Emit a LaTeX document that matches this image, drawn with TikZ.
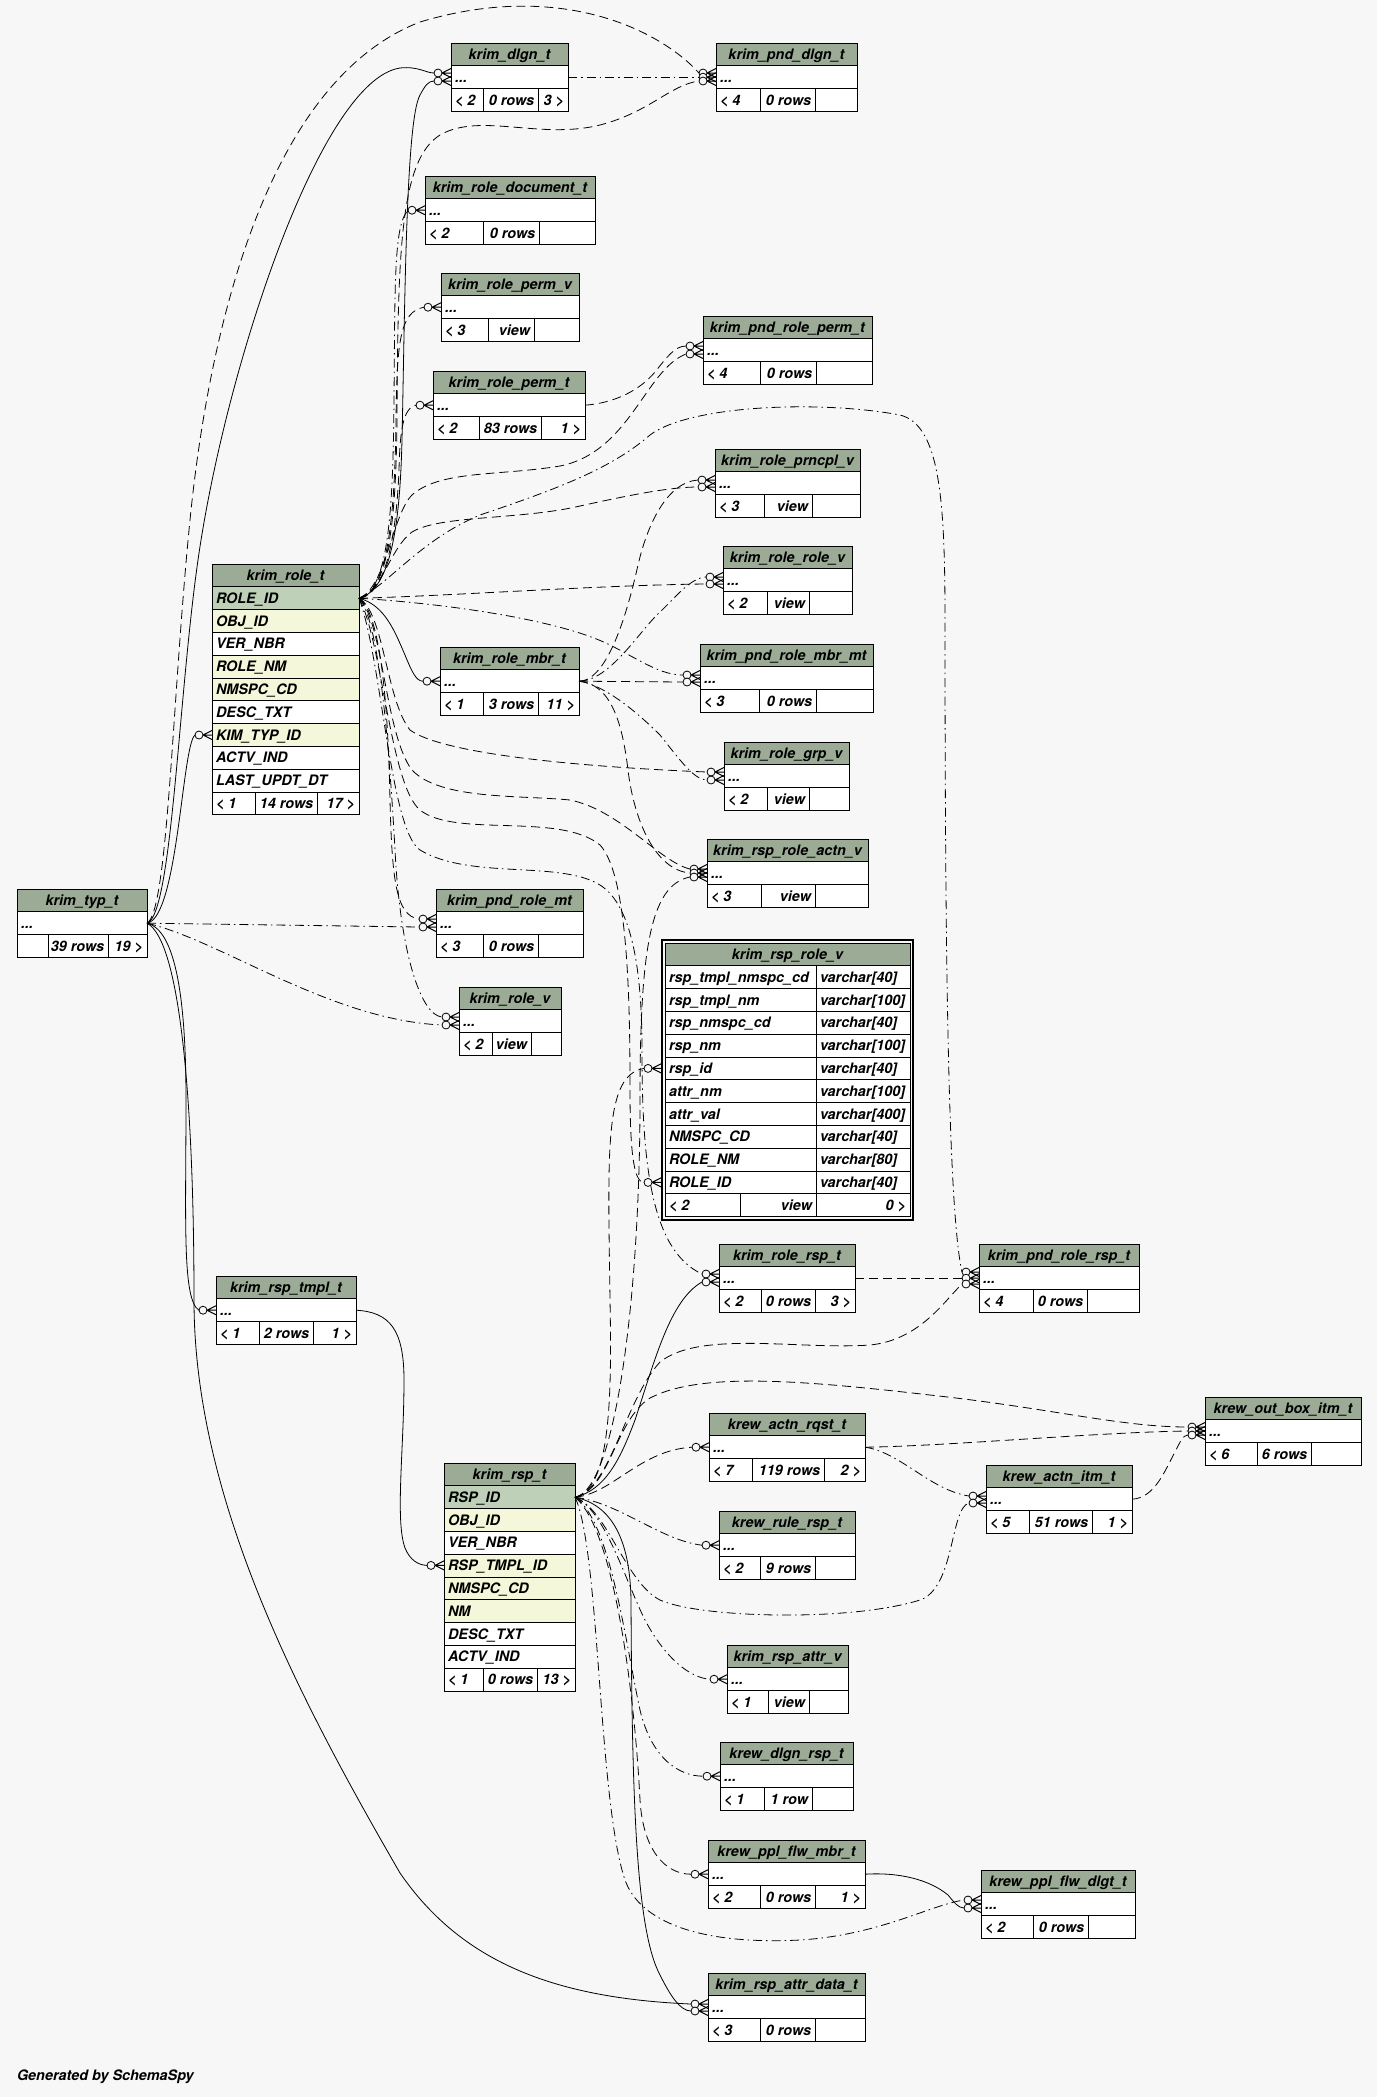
\documentclass[tikz,border=0pt]{standalone}
\usepackage{fontspec}
\setmainfont{TeX Gyre Heros}
\definecolor{bgc}{HTML}{F7F7F7}
\definecolor{hdrc}{HTML}{9BAB96}
\definecolor{pkc}{HTML}{BED1B8}
\definecolor{ixc}{HTML}{F4F7DA}
\tikzset{
 every node/.style={font=\fontsize{14.4}{17}\selectfont\bfseries\itshape, inner sep=0pt, outer sep=0pt},
 hdr/.style={draw, line width=0.8pt, fill=hdrc, minimum height=22.8pt, anchor=north west, text height=10.3pt, text depth=0pt},
 cell/.style={draw, line width=0.8pt, minimum height=22.8pt, anchor=north west},
 txt/.style={text height=10.3pt, text depth=0pt},
 fk/.style={line width=0.8pt},
 imp/.style={line width=0.8pt, dash pattern=on 9pt off 5pt},
 imd/.style={line width=0.8pt, dash pattern=on 9pt off 4pt on 1.5pt off 4pt},
 crowend/.pic={
   \draw[line width=1pt] (8,0) -- (17,-4.5) (8,0) -- (17,0) (8,0) -- (17,4.5);
   \draw[line width=0.8pt, fill=bgc] (4,0) circle[radius=4pt];
 }
}
\def\threesplit#1|#2|#3\relax{\def\fa{#1}\def\fb{#2}\def\fc{#3}}
\newcommand{\tfoot}[9]{%
 \draw[line width=0.8pt, fill=white] (#1,#2) rectangle ++(#3,22.8);
 \draw[line width=0.8pt] (#4,#2) -- ++(0,22.8) (#5,#2) -- ++(0,22.8);
 \node[txt, anchor=west] (#9a) at (#1+4,#2+11.4) {#6};
 \node[txt, anchor=east] (#9b) at (#5-4,#2+11.4) {#7};
 \node[txt, anchor=east] (#9c) at (#1+#3-4,#2+11.4) {#8};}
\newcommand{\trow}[6]{%
 \node[cell, fill=#5, minimum width=#4pt] (#1) at (#2,#3) {};
 \node[txt, anchor=west] (#1t) at ([xshift=4pt]#1.west) {#6};}
\newcommand{\stbl}[8]{%
 \node[hdr, minimum width=#4pt] (#1H) at (#2,#3) {#5};
 \trow{#1}{#2}{#3+22.8}{#4}{white}{...}
 \threesplit#8\relax
 \tfoot{#2}{#3+45.6}{#4}{#6}{#7}{\fa}{\fb}{\fc}{#1F}}
\newcommand{\vrow}[4]{%
 \node[cell, fill=white, minimum width=245pt] (#1) at (665,#2) {};
 \draw[line width=0.8pt] (816,#2) -- ++(0,22.8);
 \node[txt, anchor=west] (#1a) at (669,#2+11.4) {#3};
 \node[txt, anchor=west] (#1b) at (820,#2+11.4) {#4};}
\begin{document}
\begin{tikzpicture}[x=1pt,y=-1pt]
\fill[bgc] (0,0) rectangle (1377,2097);
\useasboundingbox (0,0) rectangle (1377,2097);

% ---------- small tables ----------
\stbl{dlgn}{451}{43}{117}{krim\_dlgn\_t}{483}{538}{< 2|0 rows|3 >}
\stbl{pnddlgn}{716}{43}{141}{krim\_pnd\_dlgn\_t}{760}{815}{< 4|0 rows|}
\stbl{doc}{425}{176}{170}{krim\_role\_document\_t}{483}{539}{< 2|0 rows|}
\stbl{permv}{441}{273}{138}{krim\_role\_perm\_v}{488}{534}{< 3|view|}
\stbl{permt}{433}{371}{152}{krim\_role\_perm\_t}{479}{541}{< 2|83 rows|1 >}
\stbl{pndperm}{703}{316}{169}{krim\_pnd\_role\_perm\_t}{760}{816}{< 4|0 rows|}
\stbl{prncpl}{715}{449}{145}{krim\_role\_prncpl\_v}{764}{812}{< 3|view|}
\stbl{rolerole}{723}{546}{129}{krim\_role\_role\_v}{767}{809}{< 2|view|}
\stbl{mbr}{440}{647}{139}{krim\_role\_mbr\_t}{483}{538}{< 1|3 rows|11 >}
\stbl{pndmbr}{700}{644}{173}{krim\_pnd\_role\_mbr\_mt}{759}{816}{< 3|0 rows|}
\stbl{grp}{724}{742}{125}{krim\_role\_grp\_v}{767}{809}{< 2|view|}
\stbl{actnv}{707}{839}{161}{krim\_rsp\_role\_actn\_v}{761}{815}{< 3|view|}
\stbl{typ}{17}{889}{130}{krim\_typ\_t}{48}{108}{|39 rows|19 >}
\stbl{pndrolemt}{436}{889}{147}{krim\_pnd\_role\_mt}{483}{538}{< 3|0 rows|}
\stbl{rolev}{459}{987}{102}{krim\_role\_v}{492}{531}{< 2|view|}
\stbl{rolersp}{719}{1244}{136}{krim\_role\_rsp\_t}{761}{815}{< 2|0 rows|3 >}
\stbl{pndrolersp}{979}{1244}{160}{krim\_pnd\_role\_rsp\_t}{1033}{1087}{< 4|0 rows|}
\stbl{tmpl}{216}{1276}{140}{krim\_rsp\_tmpl\_t}{259}{313}{< 1|2 rows|1 >}
\stbl{outbox}{1205}{1397}{156}{krew\_out\_box\_itm\_t}{1257}{1311}{< 6|6 rows|}
\stbl{actnrqst}{709}{1413}{156}{krew\_actn\_rqst\_t}{752}{824}{< 7|119 rows|2 >}
\stbl{actnitm}{986}{1465}{146}{krew\_actn\_itm\_t}{1029}{1092}{< 5|51 rows|1 >}
\stbl{rulersp}{719}{1511}{136}{krew\_rule\_rsp\_t}{760}{815}{< 2|9 rows|}
\stbl{attrv}{727}{1645}{121}{krim\_rsp\_attr\_v}{768}{809}{< 1|view|}
\stbl{dlgnrsp}{720}{1742}{133}{krew\_dlgn\_rsp\_t}{764}{812}{< 1|1 row|}
\stbl{pplmbr}{708}{1840}{157}{krew\_ppl\_flw\_mbr\_t}{760}{815}{< 2|0 rows|1 >}
\stbl{ppldlgt}{981}{1870}{154}{krew\_ppl\_flw\_dlgt\_t}{1033}{1088}{< 2|0 rows|}
\stbl{attrdata}{708}{1973}{157}{krim\_rsp\_attr\_data\_t}{760}{815}{< 3|0 rows|}

% ---------- krim_role_t ----------
\node[hdr, minimum width=147pt] (roleH) at (212,564) {krim\_role\_t};
\trow{roleid}{212}{586.8}{147}{pkc}{ROLE\_ID}
\trow{role2}{212}{609.6}{147}{ixc}{OBJ\_ID}
\trow{role3}{212}{632.4}{147}{white}{VER\_NBR}
\trow{role4}{212}{655.2}{147}{ixc}{ROLE\_NM}
\trow{role5}{212}{678}{147}{ixc}{NMSPC\_CD}
\trow{role6}{212}{700.8}{147}{white}{DESC\_TXT}
\trow{kimtyp}{212}{723.6}{147}{ixc}{KIM\_TYP\_ID}
\trow{role8}{212}{746.4}{147}{white}{ACTV\_IND}
\trow{role9}{212}{769.2}{147}{white}{LAST\_UPDT\_DT}
\tfoot{212}{792}{147}{255}{317}{< 1}{14 rows}{17 >}{roleF}

% ---------- krim_rsp_t ----------
\node[hdr, minimum width=131pt] (rspH) at (444,1463) {krim\_rsp\_t};
\trow{rspid}{444}{1485.8}{131}{pkc}{RSP\_ID}
\trow{rsp2}{444}{1508.6}{131}{ixc}{OBJ\_ID}
\trow{rsp3}{444}{1531.4}{131}{white}{VER\_NBR}
\trow{rsptmplid}{444}{1554.2}{131}{ixc}{RSP\_TMPL\_ID}
\trow{rsp5}{444}{1577}{131}{ixc}{NMSPC\_CD}
\trow{rsp6}{444}{1599.8}{131}{ixc}{NM}
\trow{rsp7}{444}{1622.6}{131}{white}{DESC\_TXT}
\trow{rsp8}{444}{1645.4}{131}{white}{ACTV\_IND}
\tfoot{444}{1668.2}{131}{483}{537}{< 1}{0 rows}{13 >}{rspF}

% ---------- krim_rsp_role_v ----------
\draw[line width=2.4pt] (661.8,939.8) rectangle (913.2,1220);
\node[hdr, minimum width=245pt] (rvH) at (665,943) {krim\_rsp\_role\_v};
\vrow{rv1}{965.8}{rsp\_tmpl\_nmspc\_cd}{varchar[40]}
\vrow{rv2}{988.6}{rsp\_tmpl\_nm}{varchar[100]}
\vrow{rv3}{1011.4}{rsp\_nmspc\_cd}{varchar[40]}
\vrow{rv4}{1034.2}{rsp\_nm}{varchar[100]}
\vrow{rvid}{1057}{rsp\_id}{varchar[40]}
\vrow{rv6}{1079.8}{attr\_nm}{varchar[100]}
\vrow{rv7}{1102.6}{attr\_val}{varchar[400]}
\vrow{rv8}{1125.4}{NMSPC\_CD}{varchar[40]}
\vrow{rv9}{1148.2}{ROLE\_NM}{varchar[80]}
\vrow{rvrole}{1171}{ROLE\_ID}{varchar[40]}
\tfoot{665}{1193.8}{245}{740}{816}{< 2}{view}{0 >}{rvF}

% ---------- connector end points ----------
\coordinate (eDlgnA) at (434,73);
\coordinate (eDlgnB) at (434,81);
\coordinate (ePndDlgnA) at (699,73);
\coordinate (ePndDlgnB) at (699,77.2);
\coordinate (ePndDlgnC) at (699,81);
\coordinate (eDoc) at (408,210.2);
\coordinate (ePermV) at (424,307.2);
\coordinate (ePermT) at (416,405.2);
\coordinate (ePndPermA) at (686,346);
\coordinate (ePndPermB) at (686,354);
\coordinate (ePrnA) at (698,480);
\coordinate (ePrnB) at (698,487);
\coordinate (eRRA) at (706,577);
\coordinate (eRRB) at (706,584);
\coordinate (eMbr) at (423,681.2);
\coordinate (ePMA) at (683,675);
\coordinate (ePMB) at (683,682);
\coordinate (eGrpA) at (707,772);
\coordinate (eGrpB) at (707,780);
\coordinate (eAVA) at (690,869);
\coordinate (eAVB) at (690,873);
\coordinate (eAVC) at (690,877);
\coordinate (ePRmtA) at (419,919);
\coordinate (ePRmtB) at (419,927);
\coordinate (eRvA) at (442,1017);
\coordinate (eRvB) at (442,1025);
\coordinate (eKimTyp) at (195,735);
\coordinate (eRVid) at (644,1068.4);
\coordinate (eRVrole) at (644,1182.4);
\coordinate (eRRspA) at (702,1274);
\coordinate (eRRspB) at (702,1282);
\coordinate (ePRRspA) at (962,1272);
\coordinate (ePRRspB) at (962,1278.2);
\coordinate (ePRRspC) at (962,1284);
\coordinate (eTmpl) at (199,1310.2);
\coordinate (eOBA) at (1188,1427);
\coordinate (eOBB) at (1188,1431);
\coordinate (eOBC) at (1188,1435);
\coordinate (eAR) at (692,1447.2);
\coordinate (eAIA) at (969,1496);
\coordinate (eAIB) at (969,1503);
\coordinate (eRspTmpl) at (427,1565.4);
\coordinate (eRule) at (702,1545.2);
\coordinate (eAttrV) at (710,1679.2);
\coordinate (eDR) at (703,1776.2);
\coordinate (ePM) at (691,1874.2);
\coordinate (ePDA) at (964,1900);
\coordinate (ePDB) at (964,1908);
\coordinate (eADA) at (691,2004);
\coordinate (eADB) at (691,2011);

% ---------- connectors from krim_typ_t ----------
\draw[fk] (typ.east) .. controls (178,918) and (182,745) .. (eKimTyp);
\draw[fk] (typ.east) .. controls (172,915) and (178,700) .. (198,560) .. controls (225,370) and (320,80) .. (400,68) .. controls (418,66) and (426,73) .. (eDlgnA);
\draw[imp] (typ.east) .. controls (168,912) and (172,700) .. (190,520) .. controls (210,320) and (270,80) .. (420,22) .. controls (560,-20) and (660,30) .. (ePndDlgnA);
\draw[imd] (typ.east) -- (ePRmtB);
\draw[imd] (typ.east) .. controls (220,940) and (330,1020) .. (eRvB);
\draw[fk] (typ.east) .. controls (176,930) and (186,1000) .. (186,1100) .. controls (186,1220) and (182,1300) .. (eTmpl);
\draw[fk] (typ.east) .. controls (180,940) and (194,1100) .. (194,1300) .. controls (194,1500) and (300,1700) .. (400,1873) .. controls (460,1960) and (550,1998) .. (eADA);

% ---------- connectors from krim_dlgn_t / perm_t / mbr ----------
\draw[imd] (dlgn.east) -- (ePndDlgnB);
\draw[imp] (permt.east) .. controls (615,403) and (640,390) .. (655,372) .. controls (667,357) and (675,346) .. (ePndPermA);
\draw[imp] (mbr.east) .. controls (608,681) and (628,610) .. (638,565) .. controls (648,522) and (668,482) .. (ePrnA);
\draw[imd] (mbr.east) .. controls (610,681) and (640,630) .. (660,612) .. controls (676,597) and (690,578) .. (eRRA);
\draw[imp] (mbr.east) -- (ePMB);
\draw[imd] (mbr.east) .. controls (600,684) and (630,705) .. (660,735) .. controls (680,760) and (694,780) .. (eGrpB);
\draw[imp] (mbr.east) .. controls (610,684) and (622,720) .. (628,770) .. controls (634,820) and (655,870) .. (eAVB);

% ---------- connectors from krim_role_t ----------
\draw[fk] (roleid.east) .. controls (392,590) and (400,520) .. (402,440) .. controls (405,300) and (406,120) .. (420,95) .. controls (425,86) and (428,81) .. (eDlgnB);
\draw[imp] (roleid.east) .. controls (392,592) and (396,500) .. (397,420) .. controls (398,250) and (400,160) .. (440,135) .. controls (480,112) and (540,140) .. (600,125) .. controls (650,112) and (670,85) .. (ePndDlgnC);
\draw[imd] (roleid.east) .. controls (390,592) and (393,500) .. (394,400) .. controls (395,280) and (394,225) .. (eDoc);
\draw[imp] (roleid.east) .. controls (390,594) and (395,500) .. (396,420) .. controls (397,340) and (400,312) .. (ePermV);
\draw[imp] (roleid.east) .. controls (389,595) and (397,520) .. (399,470) .. controls (400,430) and (403,408) .. (ePermT);
\draw[imp] (roleid.east) .. controls (386,588) and (392,515) .. (412,495) .. controls (440,470) and (500,476) .. (560,466) .. controls (630,452) and (645,370) .. (ePndPermB);
\draw[imp] (roleid.east) .. controls (382,592) and (390,548) .. (412,532) .. controls (440,515) and (520,520) .. (580,506) .. controls (630,495) and (670,487) .. (ePrnB);
\draw[imp] (roleid.east) .. controls (450,596) and (600,585) .. (eRRB);
\draw[imd] (roleid.east) .. controls (450,604) and (560,620) .. (610,645) .. controls (640,660) and (660,675) .. (ePMA);
\draw[fk] (roleid.east) .. controls (385,605) and (395,632) .. (405,655) .. controls (412,672) and (416,681) .. (eMbr);
\draw[imp] (roleid.east) .. controls (384,612) and (386,700) .. (410,730) .. controls (440,752) and (560,766) .. (eGrpA);
\draw[imp] (roleid.east) .. controls (383,620) and (385,735) .. (412,770) .. controls (440,800) and (520,795) .. (570,800) .. controls (620,810) and (660,862) .. (eAVA);
\draw[imp] (roleid.east) .. controls (382,640) and (390,785) .. (420,810) .. controls (455,838) and (560,812) .. (600,845) .. controls (628,875) and (630,1000) .. (630,1090) .. controls (630,1160) and (635,1182) .. (eRVrole);
\draw[imd] (roleid.east) .. controls (382,660) and (390,830) .. (420,850) .. controls (470,880) and (560,860) .. (600,885) .. controls (632,905) and (642,970) .. (642,1050) .. controls (642,1160) and (650,1250) .. (eRRspA);
\draw[imp] (roleid.east) .. controls (380,612) and (388,700) .. (390,800) .. controls (392,880) and (396,916) .. (ePRmtA);
\draw[imd] (roleid.east) .. controls (380,620) and (390,760) .. (395,850) .. controls (400,950) and (420,1015) .. (eRvA);
\draw[imd] (roleid.east) .. controls (388,585) and (420,540) .. (480,515) .. controls (560,488) and (612,468) .. (650,435) .. controls (690,405) and (820,400) .. (900,415) .. controls (940,425) and (945,500) .. (945,620) .. controls (945,950) and (948,1210) .. (ePRRspA);

% ---------- connectors from krim_rsp_tmpl_t ----------
\draw[fk] (tmpl.east) .. controls (390,1312) and (404,1330) .. (404,1380) .. controls (404,1450) and (395,1520) .. (405,1548) .. controls (410,1560) and (418,1565) .. (eRspTmpl);

% ---------- connectors from krim_rsp_t ----------
\draw[fk] (rspid.east) .. controls (605,1490) and (620,1460) .. (635,1420) .. controls (655,1360) and (670,1300) .. (eRRspB);
\draw[imp] (rspid.east) .. controls (610,1490) and (625,1400) .. (660,1362) .. controls (700,1330) and (800,1350) .. (870,1345) .. controls (920,1340) and (945,1300) .. (ePRRspC);
\draw[imp] (rspid.east) .. controls (610,1490) and (615,1420) .. (650,1398) .. controls (700,1372) and (800,1380) .. (930,1395) .. controls (1050,1408) and (1120,1427) .. (eOBA);
\draw[imp] (rspid.east) .. controls (612,1494) and (640,1450) .. (eAR);
\draw[imd] (rspid.east) .. controls (608,1510) and (625,1582) .. (660,1600) .. controls (700,1618) and (850,1622) .. (920,1600) .. controls (955,1588) and (950,1508) .. (eAIB);
\draw[imd] (rspid.east) .. controls (620,1503) and (660,1540) .. (eRule);
\draw[imd] (rspid.east) .. controls (605,1510) and (625,1580) .. (645,1620) .. controls (665,1658) and (690,1678) .. (eAttrV);
\draw[imd] (rspid.east) .. controls (610,1520) and (625,1640) .. (640,1710) .. controls (652,1760) and (680,1776) .. (eDR);
\draw[imp] (rspid.east) .. controls (615,1530) and (635,1700) .. (640,1800) .. controls (643,1850) and (665,1874) .. (ePM);
\draw[imd] (rspid.east) .. controls (600,1550) and (598,1800) .. (625,1880) .. controls (640,1922) and (700,1945) .. (800,1940) .. controls (880,1935) and (930,1905) .. (ePDA);
\draw[fk] (rspid.east) .. controls (612,1505) and (630,1540) .. (631,1600) .. controls (632,1800) and (636,1930) .. (660,1975) .. controls (670,1995) and (680,2011) .. (eADB);
\draw[imp] (rspid.east) .. controls (610,1490) and (612,1400) .. (610,1300) .. controls (608,1150) and (604,1075) .. (eRVid);
\draw[imp] (rspid.east) .. controls (615,1490) and (640,1300) .. (640,1100) .. controls (640,950) and (650,885) .. (eAVC);

% ---------- other connectors ----------
\draw[imp] (rolersp.east) -- (ePRRspB);
\draw[imp] (actnrqst.east) .. controls (950,1446) and (1100,1432) .. (eOBB);
\draw[imp] (actnitm.east) .. controls (1155,1498) and (1165,1470) .. (1175,1452) .. controls (1180,1442) and (1183,1435) .. (eOBC);
\draw[imd] (actnrqst.east) .. controls (900,1452) and (930,1490) .. (eAIA);
\draw[fk] (pplmbr.east) .. controls (900,1872) and (930,1880) .. (948,1895) .. controls (954,1902) and (958,1908) .. (ePDB);

% ---------- crow's feet ----------
\foreach \e in {eDlgnA,eDlgnB,ePndDlgnA,ePndDlgnB,ePndDlgnC,eDoc,ePermV,ePermT,ePndPermA,ePndPermB,ePrnA,ePrnB,eRRA,eRRB,eMbr,ePMA,ePMB,eGrpA,eGrpB,eAVA,eAVB,eAVC,ePRmtA,ePRmtB,eRvA,eRvB,eKimTyp,eRVid,eRVrole,eRRspA,eRRspB,ePRRspA,ePRRspB,ePRRspC,eTmpl,eOBA,eOBB,eOBC,eAR,eAIA,eAIB,eRspTmpl,eRule,eAttrV,eDR,ePM,ePDA,ePDB,eADA,eADB}
  {\pic at (\e) {crowend};}

\node[anchor=base west] (gen) at (17,2080) {Generated by SchemaSpy};
\end{tikzpicture}
\end{document}
